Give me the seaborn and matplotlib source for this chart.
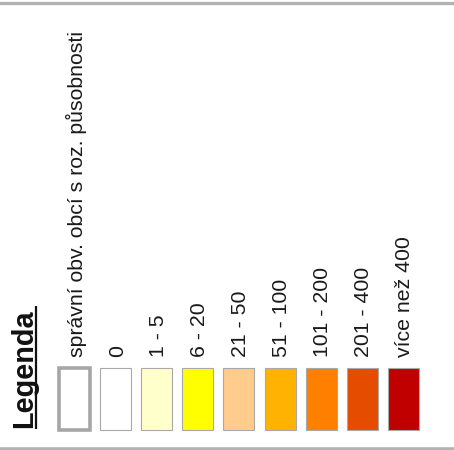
import matplotlib
matplotlib.use("Agg")
import matplotlib.pyplot as plt
import seaborn as sns

# ---- data ----
title = "Legenda"
labels = ["správní obv. obcí s roz. působnosti", "0", "1 - 5", "6 - 20", "21 - 50",
          "51 - 100", "101 - 200", "201 - 400", "více než 400"]
fill_colors = ["#FFFFFF", "#FFFFFF", "#FFFFCC", "#FFFF00", "#FFCC8C",
               "#FFB300", "#FF7F00", "#E64C00", "#C00000"]
box_size = [1] * len(labels)

# ---- layout (pixel based) ----
W, H = 454, 450
PITCH = 41.1      # px between box centres
X0 = 74.5         # px centre of first box
BOX_TOP, BOX_BOT = 368, 430


def px2idx(px):
    return (px - X0) / PITCH


sns.set_theme(style="white")
plt.rcParams["font.family"] = ["Liberation Sans", "DejaVu Sans"]

fig = plt.figure(figsize=(W / 100, H / 100), dpi=100)
ax = fig.add_axes([0, 0, 1, 1])

sns.barplot(x=labels, y=[v * (BOX_BOT - BOX_TOP) for v in box_size], hue=labels,
            palette=fill_colors, legend=False, width=31 / PITCH, errorbar=None,
            bottom=BOX_TOP, saturation=1, ax=ax)

for i, p in enumerate(ax.patches):
    if i == 0:
        p.set_edgecolor("#A6A6A6")
        p.set_linewidth(2.6)
    else:
        p.set_edgecolor("#A8A8A8")
        p.set_linewidth(0.8)

ax.set_xlim(px2idx(0), px2idx(W))
ax.set_ylim(H, 0)
ax.axis("off")

# category labels
for i, lab in enumerate(labels):
    ax.text(i + 0.04, 357, lab, rotation=90, ha="center", va="bottom",
            fontsize=15.3, color="#1A1A1A")

# title
t = ax.text(px2idx(24), 428, title, rotation=90, ha="center", va="bottom",
            fontsize=20.8, fontweight="bold", color="#111111")
ax.plot([px2idx(35.5), px2idx(35.5)], [429, 306], color="#111111", lw=1.6,
        solid_capstyle="butt")

# frame lines top / bottom
ax.plot([px2idx(0), px2idx(W)], [3.2, 3.2], color="#B2B2B2", lw=2.4)
ax.plot([px2idx(0), px2idx(W)], [448.6, 448.6], color="#B2B2B2", lw=2.6)

fig.savefig("out.png", dpi=100)
